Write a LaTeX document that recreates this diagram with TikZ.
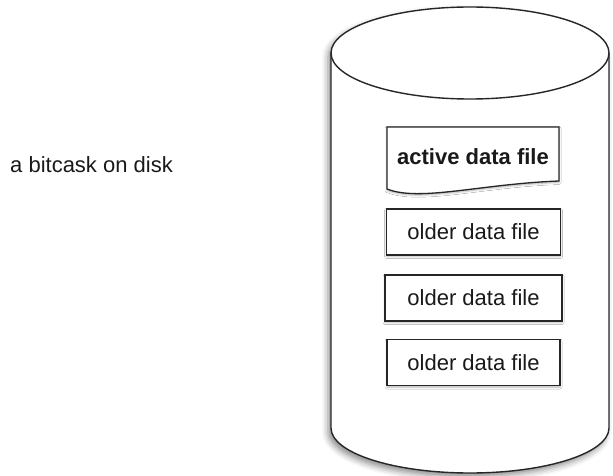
\documentclass[tikz,border=0pt]{standalone}
\usepackage{fontspec}
\setmainfont{Liberation Sans}
\usetikzlibrary{shadows.blur}
\begin{document}
\begin{tikzpicture}[x=1pt,y=-1pt,
  every node/.style={font=\fontsize{22}{26}\selectfont, text=black!90},
  filebox/.style={draw=black!85, line width=1.3pt, fill=white, rectangle,
    minimum width=174pt, minimum height=46pt, inner sep=0pt,
    blur shadow={shadow xshift=0pt, shadow yshift=-1.5pt, shadow blur radius=2pt, shadow opacity=30}},
  outline/.style={draw=black!85, line width=1.4pt}
]
\useasboundingbox (0,0) rectangle (613,476);
% cylinder body with shadow
\path[fill=white, blur shadow={shadow xshift=-3pt, shadow yshift=-4pt, shadow blur radius=6pt, shadow opacity=45}]
  (331,53) -- (331,428) arc[start angle=180, end angle=360, x radius=139pt, y radius=45pt]
  -- (609,53) arc[start angle=0, end angle=180, x radius=139pt, y radius=46pt] -- cycle;
\draw[outline] (331,53) -- (331,428) arc[start angle=180, end angle=360, x radius=139pt, y radius=45pt] -- (609,53);
\draw[outline] (470,53) ellipse[x radius=139pt, y radius=46pt];

% label
\node[anchor=base west, inner sep=0pt] (label) at (10,172) {a bitcask on disk};

% active data file (document shape)
\coordinate (atl) at (387,127);
\coordinate (atr) at (559,127);
\coordinate (abr) at (559,181);
\coordinate (abl) at (387,189);
\path[fill=white, draw=black!85, line width=1.3pt,
  blur shadow={shadow xshift=0pt, shadow yshift=-1.5pt, shadow blur radius=2pt, shadow opacity=30}]
  (atl) -- (atr) -- (abr) .. controls (480,184) and (420,202) .. (abl) -- cycle;
\node[font=\fontsize{22}{26}\selectfont\bfseries] (active) at (473,157) {active data file};

% older data files
\node[filebox] (old1) at (473.5,232) {older data file};
\node[filebox, minimum width=177pt] (old2) at (473.5,298) {older data file};
\node[filebox, minimum width=173pt] (old3) at (473.5,362.5) {older data file};
\end{tikzpicture}
\end{document}
